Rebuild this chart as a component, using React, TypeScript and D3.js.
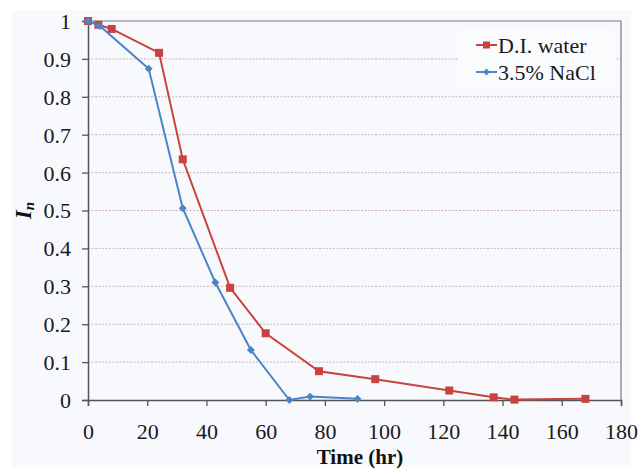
import React, { useEffect, useRef } from "react";
import * as d3 from "d3";

const diTime = [0, 3.5, 8, 24, 32, 48, 60, 78, 97, 122, 137, 144, 168];
const diValue = [1.0, 0.99, 0.979, 0.916, 0.635, 0.296, 0.176, 0.076, 0.055, 0.025, 0.007, 0.001, 0.003];
const naclTime = [0, 4, 20.5, 32, 43, 55, 68, 75, 91];
const naclValue = [1.0, 0.987, 0.874, 0.506, 0.31, 0.132, 0.0, 0.009, 0.003];
const xTicks = [0, 20, 40, 60, 80, 100, 120, 140, 160, 180];
const yTicks = [0, 0.1, 0.2, 0.3, 0.4, 0.5, 0.6, 0.7, 0.8, 0.9, 1];
const seriesNames = ["D.I. water", "3.5% NaCl"];

const W = 639, H = 469;
const L = 88, R = 621, T = 21, B = 400;
const RED = "#c8433f";
const BLUE = "#4a85c9";
const FONT = "'Liberation Serif', 'Times New Roman', serif";

export default function App() {
  const ref = useRef<SVGSVGElement>(null);
  useEffect(() => {
    const svg = d3.select(ref.current);
    svg.selectAll("*").remove();
    const x = d3.scaleLinear().domain([0, 180]).range([L, R]);
    const y = d3.scaleLinear().domain([0, 1]).range([B, T]);

    svg.append("rect").attr("x", 0).attr("y", 0).attr("width", W).attr("height", H).attr("fill", "#ffffff");
    svg.append("rect").attr("x", 12).attr("y", 10).attr("width", W - 20).attr("height", H - 12).attr("fill", "#f8f9fc");

    // gridlines
    svg.append("g").selectAll("line").data(yTicks.filter(v => v > 0 && v < 1)).join("line")
      .attr("x1", L).attr("x2", R).attr("y1", d => y(d)).attr("y2", d => y(d))
      .attr("stroke", "#cfb3b3").attr("stroke-width", 1).attr("stroke-dasharray", "2,1.5");

    // frame
    svg.append("path").attr("d", `M${L},${T}H${R}V${B}`).attr("fill", "none").attr("stroke", "#7a7a7a").attr("stroke-width", 1.2);

    // axes
    const xa = svg.append("g").attr("transform", `translate(0,${B})`)
      .call(d3.axisBottom(x).tickValues(xTicks).tickSize(6).tickFormat(d3.format("d")));
    const ya = svg.append("g").attr("transform", `translate(${L},0)`)
      .call(d3.axisLeft(y).tickValues(yTicks).tickSize(6).tickFormat(d => (d === 0 || d === 1 ? String(d) : d3.format(".1f")(d as number))));
    [xa, ya].forEach(a => {
      a.attr("font-family", FONT);
      a.select(".domain").attr("stroke", "#555").attr("stroke-width", 1.5);
      a.selectAll(".tick line").attr("stroke", "#555").attr("stroke-width", 1.3);
      a.selectAll("text").attr("font-family", FONT).attr("font-size", 22).attr("fill", "#1a1a1a");
    });
    xa.selectAll("text").attr("dy", null).attr("y", 39);
    ya.selectAll("text").attr("x", -17).attr("dy", "0.34em");

    const lineGen = d3.line<[number, number]>().x(d => x(d[0])).y(d => y(d[1]));
    const di = diTime.map((t, i) => [t, diValue[i]] as [number, number]);
    const na = naclTime.map((t, i) => [t, naclValue[i]] as [number, number]);

    svg.append("path").datum(di).attr("d", lineGen).attr("fill", "none").attr("stroke", RED).attr("stroke-width", 2);
    svg.append("g").selectAll("rect").data(di).join("rect")
      .attr("x", d => x(d[0]) - 4).attr("y", d => y(d[1]) - 4).attr("width", 8).attr("height", 8).attr("fill", RED);

    svg.append("path").datum(na).attr("d", lineGen).attr("fill", "none").attr("stroke", BLUE).attr("stroke-width", 2);
    svg.append("g").selectAll("path").data(na).join("path")
      .attr("d", d3.symbol(d3.symbolDiamond2, 40) as any)
      .attr("transform", d => `translate(${x(d[0])},${y(d[1])})`).attr("fill", BLUE);

    // legend
    const lg = svg.append("g");
    lg.append("rect").attr("x", 458).attr("y", 28).attr("width", 157).attr("height", 58).attr("fill", "#fafbfd");
    const rows = [
      { name: seriesNames[0], color: RED, sym: "sq", yy: 45 },
      { name: seriesNames[1], color: BLUE, sym: "dm", yy: 72 },
    ];
    rows.forEach(r => {
      lg.append("line").attr("x1", 476).attr("x2", 497).attr("y1", r.yy).attr("y2", r.yy).attr("stroke", r.color).attr("stroke-width", 2);
      if (r.sym === "sq") lg.append("rect").attr("x", 483).attr("y", r.yy - 3.5).attr("width", 7).attr("height", 7).attr("fill", r.color);
      else lg.append("path").attr("d", d3.symbol(d3.symbolDiamond2, 30) as any).attr("transform", `translate(486.5,${r.yy})`).attr("fill", r.color);
      lg.append("text").attr("x", 498).attr("y", r.yy + 8).attr("font-family", FONT).attr("font-size", 22).attr("fill", "#1a1a1a").text(r.name);
    });

    // axis titles
    svg.append("text").attr("x", 360).attr("y", 464).attr("text-anchor", "middle")
      .attr("font-family", FONT).attr("font-size", 21).attr("font-weight", "bold").attr("fill", "#111").text("Time (hr)");
    const yt = svg.append("text").attr("transform", `translate(31,${(T + B) / 2}) rotate(-90)`).attr("text-anchor", "middle")
      .attr("font-family", FONT).attr("font-size", 23).attr("font-weight", "bold").attr("font-style", "italic").attr("fill", "#111");
    yt.append("tspan").text("I");
    yt.append("tspan").attr("font-size", 15).attr("dy", 3).text("n");
  }, []);
  return <svg ref={ref} width={W} height={H} style={{ position: "absolute", left: 0, top: 0 }} />;
}
